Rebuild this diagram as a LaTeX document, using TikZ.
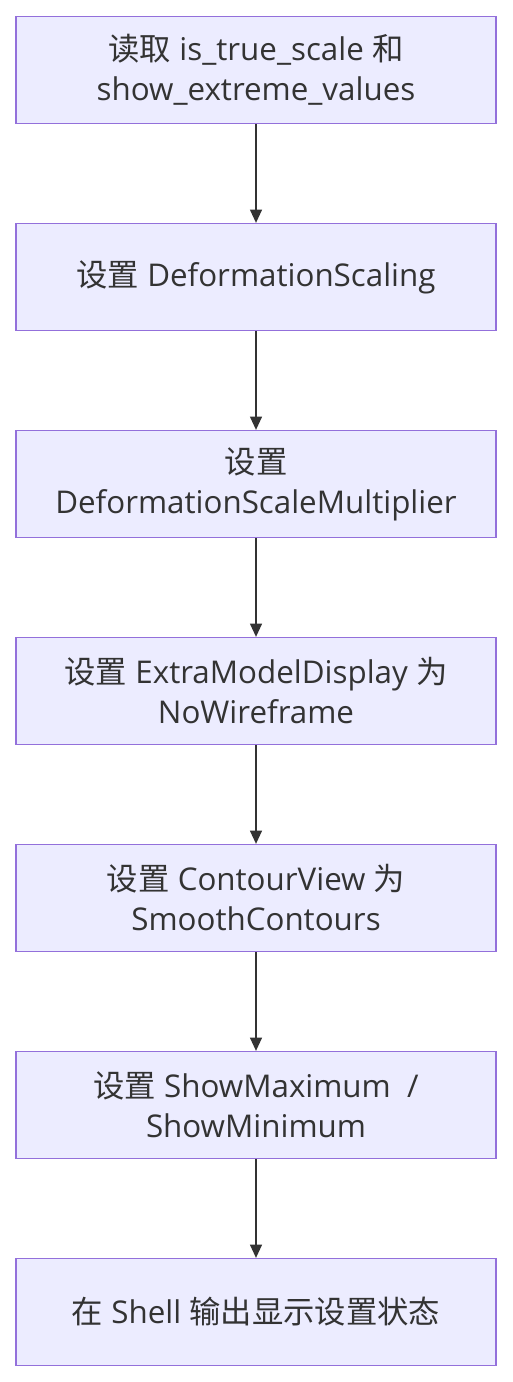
\documentclass[tikz,border=0pt]{standalone}
\usepackage{fontspec}
\setmainfont{Open Sans}
\newfontfamily\cjk{Noto Sans CJK SC}
\usetikzlibrary{arrows.meta}
\definecolor{boxfill}{HTML}{ECECFF}
\definecolor{boxline}{HTML}{9370DB}
\definecolor{ink}{HTML}{333333}
\newcommand{\zh}[1]{{\cjk #1}}
\tikzset{
  stepbox/.style={draw=boxline, fill=boxfill, line width=1.2pt, minimum width=360pt,
    minimum height=80pt, align=center, text=ink, font=\fontsize{23.5}{30}\selectfont},
  flow/.style={draw=ink, line width=1.1pt, -{Triangle[width=9pt,length=10pt]}}
}
\begin{document}
\begin{tikzpicture}[x=0.75pt, y=-0.75pt]
    \useasboundingbox (0,0) rectangle (512,1382);
    
    \node[stepbox] (read) at (256,70) {\zh{读取} is\_true\_scale \zh{和}\\show\_extreme\_values};
    \node[stepbox] (scaling) at (256,277) {\zh{设置} DeformationScaling};
    \node[stepbox] (mult) at (256,484) {\zh{设置}\\DeformationScaleMultiplier};
    \node[stepbox] (wire) at (256,691) {\zh{设置} ExtraModelDisplay \zh{为}\\NoWireframe};
    \node[stepbox] (contour) at (256,898) {\zh{设置} ContourView \zh{为}\\SmoothContours};
    \node[stepbox] (extreme) at (256,1105) {\zh{设置} ShowMaximum ~/\\ShowMinimum};
    \node[stepbox] (shell) at (256,1312) {\zh{在} Shell \zh{输出显示设置状态}};
    
    \foreach \a/\b in {read/scaling, scaling/mult, mult/wire, wire/contour, contour/extreme, extreme/shell}
        \draw[flow] (\a) -- (\b);
\end{tikzpicture}
\end{document}
